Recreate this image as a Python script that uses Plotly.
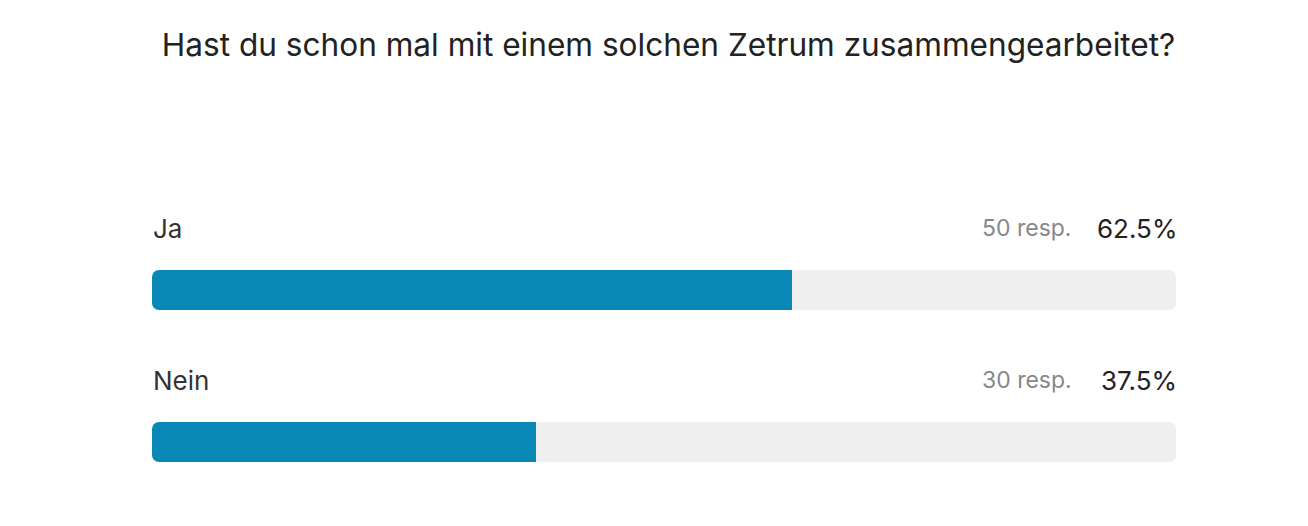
import plotly.graph_objects as go

title = "Hast du schon mal mit einem solchen Zetrum zusammengearbeitet?"
categories = ["Ja", "Nein"]
responses = [50, 30]
percents = [62.5, 37.5]

FILL = "#0888B4"
TRACK = "#EFEFEF"
FONT = "Inter, Roboto, Liberation Sans, sans-serif"

ypos = list(range(len(categories)))
bw = 40 / 152

fig = go.Figure()
# remaining (grey) part of the track; rounded tip at the right end
fig.add_trace(go.Bar(x=[100 - p + 2 for p in percents], base=[p - 2 for p in percents],
                     y=ypos, orientation="h", width=bw,
                     marker=dict(color=TRACK, cornerradius=7, line=dict(width=0)),
                     hoverinfo="skip", showlegend=False))
# fill with rounded left end
fig.add_trace(go.Bar(x=[-p for p in percents], base=percents, y=ypos, orientation="h", width=bw,
                     marker=dict(color=FILL, cornerradius=7, line=dict(width=0)),
                     hoverinfo="skip", showlegend=False))
# square off the right end of each fill
fig.add_trace(go.Bar(x=[2] * len(categories), base=[p - 2 for p in percents], y=ypos,
                     orientation="h", width=bw,
                     marker=dict(color=FILL, cornerradius=0, line=dict(width=0)),
                     hoverinfo="skip", showlegend=False))

ann = []
off = -62 / 152
for i, (c, r, p) in enumerate(zip(categories, responses, percents)):
    ann.append(dict(x=0, y=i + off, xref="x", yref="y", text=c, showarrow=False,
                    xanchor="left", yanchor="middle", xshift=-1,
                    font=dict(family=FONT, size=26, color="#333333")))
    ann.append(dict(x=100, y=i + off, xref="x", yref="y", text=f"{p:.1f}%", showarrow=False,
                    xanchor="right", yanchor="middle", xshift=3,
                    font=dict(family=FONT, size=26, color="#222222")))
    ann.append(dict(x=100, y=i + off, xref="x", yref="y", text=f"{r} resp.", showarrow=False,
                    xanchor="right", yanchor="middle", xshift=-102,
                    font=dict(family=FONT, size=23, color="#888888")))

fig.update_layout(
    width=1308, height=526,
    margin=dict(l=152, r=132, t=100, b=26),
    paper_bgcolor="white", plot_bgcolor="white",
    barmode="overlay",
    title=dict(text=title, x=(162 + 1175) / 2 / 1308, xanchor="center",
               y=1 - 45 / 526, yanchor="middle",
               font=dict(family=FONT, size=31.6, color="#222222")),
    xaxis=dict(range=[0, 100], visible=False, fixedrange=True),
    yaxis=dict(range=[1 + 58 / 152, -190 / 152], visible=False, fixedrange=True),
    annotations=ann,
)
fig.write_html("out.html")
